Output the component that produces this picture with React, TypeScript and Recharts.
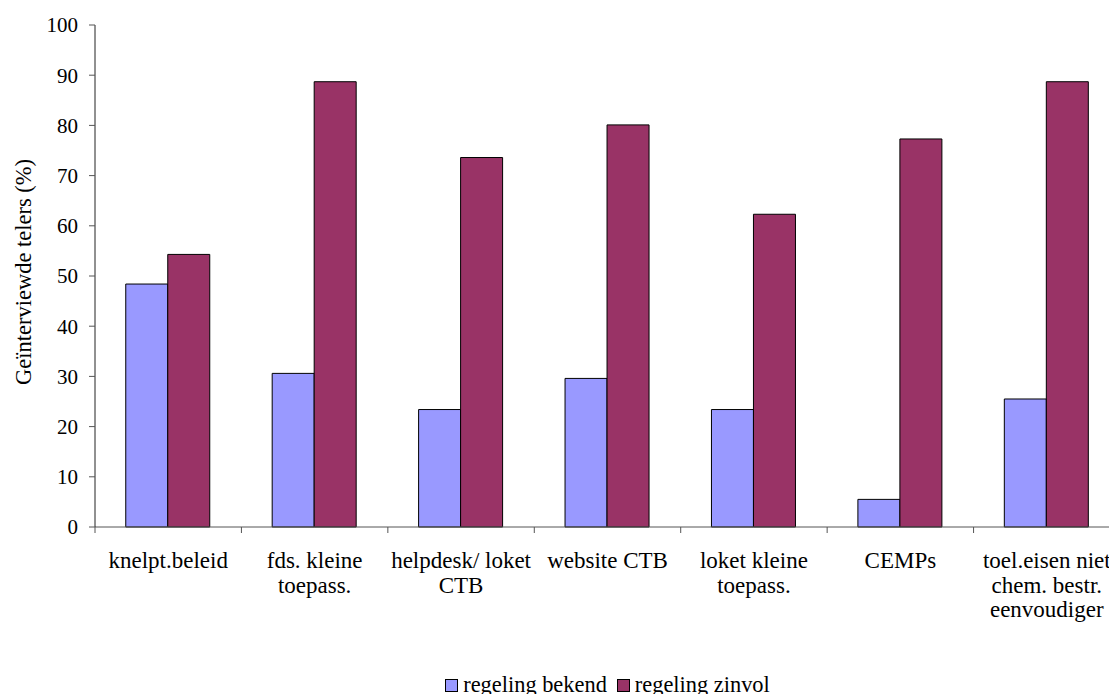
import React from "react"
import { Bar, BarChart, Legend, XAxis, YAxis } from "recharts"

const categories = [
  "knelpt.beleid",
  "fds. kleine\ntoepass.",
  "helpdesk/ loket\nCTB",
  "website CTB",
  "loket kleine\ntoepass.",
  "CEMPs",
  "toel.eisen niet\nchem. bestr.\neenvoudiger",
]
const regelingBekend = [48.4, 30.6, 23.4, 29.6, 23.4, 5.5, 25.5]
const regelingZinvol = [54.3, 88.7, 73.6, 80.1, 62.3, 77.3, 88.7]
const yTicks = [0, 10, 20, 30, 40, 50, 60, 70, 80, 90, 100]

const data = categories.map((name, i) => ({
  name,
  bekend: regelingBekend[i],
  zinvol: regelingZinvol[i],
}))

const FONT = "Liberation Serif"
const BLUE = "#9999FF"
const WINE = "#993366"

function CategoryTick(props: any) {
  const { x, y, payload } = props
  const lines = String(payload.value).split("\n")
  const half = payload.offset ?? 0
  return (
    <g>
      <line x1={x - half} x2={x - half} y1={y - 8} y2={y - 2} stroke="#555" />
      <text x={x} y={y + 33} textAnchor="middle" fontFamily={FONT} fontSize={23} fill="#000">
        {lines.map((l, i) => (
          <tspan key={i} x={x} dy={i === 0 ? 0 : 24.7}>
            {l}
          </tspan>
        ))}
      </text>
    </g>
  )
}

function YTitle(props: any) {
  const vb = props.viewBox || { x: 0, y: 0, height: 0 }
  const cx = vb.x + 23
  const cy = vb.y + vb.height / 2 - 4
  return (
    <text
      x={cx}
      y={cy}
      transform={`rotate(-90, ${cx}, ${cy})`}
      textAnchor="middle"
      dominantBaseline="central"
      fontFamily={FONT}
      fontSize={22.5}
      fill="#000"
    >
      Geïnterviewde telers (%)
    </text>
  )
}

function LegendBox() {
  const items = [
    { label: "regeling bekend", color: BLUE },
    { label: "regeling zinvol", color: WINE },
  ]
  return (
    <div
      style={{
        display: "flex",
        justifyContent: "center",
        alignItems: "center",
        height: 24,
        fontFamily: FONT,
        fontSize: 22.4,
        lineHeight: "24px",
        color: "#000",
      }}
    >
      {items.map((it, i) => (
        <span
          key={it.label}
          style={{ display: "inline-flex", alignItems: "center", marginRight: i < items.length - 1 ? 10 : 0 }}
        >
          <span
            style={{
              display: "inline-block",
              width: 11,
              height: 11,
              background: it.color,
              border: "1px solid #000",
              marginRight: 5,
            }}
          />
          {it.label}
        </span>
      ))}
    </div>
  )
}

export default function App() {
  return (
    <div style={{ position: "fixed", left: 0, top: 0, width: 1109, height: 694, overflow: "hidden", background: "#fff" }}>
      <BarChart
        width={1140}
        height={694}
        data={data}
        margin={{ top: 25, right: 20, left: 0, bottom: 0 }}
        barCategoryGap="21%"
        barGap={0}
      >
        <XAxis
          dataKey="name"
          interval={0}
          height={143}
          tickLine={false}
          axisLine={{ stroke: "#555" }}
          tick={<CategoryTick />}
        />
        <YAxis
          domain={[0, 100]}
          ticks={yTicks}
          width={95}
          tickSize={6}
          tickMargin={11}
          tickLine={{ stroke: "#555" }}
          axisLine={{ stroke: "#222" }}
          tick={{ fontFamily: FONT, fontSize: 21, fill: "#000" }}
          label={{ content: <YTitle /> }}
        />
        <Legend
          verticalAlign="bottom"
          content={<LegendBox />}
          wrapperStyle={{ left: 95, width: 1025, bottom: -3 }}
        />
        <Bar dataKey="bekend" name="regeling bekend" fill={BLUE} stroke="#000" strokeWidth={1} isAnimationActive={false} />
        <Bar dataKey="zinvol" name="regeling zinvol" fill={WINE} stroke="#000" strokeWidth={1} isAnimationActive={false} />
      </BarChart>
    </div>
  )
}
